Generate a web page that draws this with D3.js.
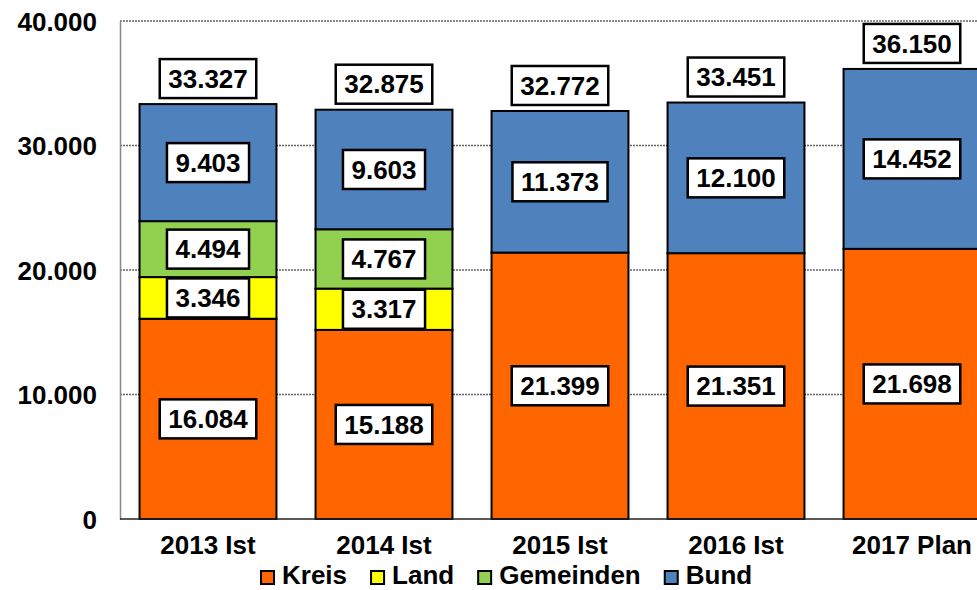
<!DOCTYPE html>
<html>
<head>
<meta charset="utf-8">
<script src="https://cdn.jsdelivr.net/npm/d3@7"></script>
<style>
  body { margin: 0; background: #fff; }
  svg text { font-family: "Liberation Sans", Arial, sans-serif; font-weight: bold; fill: #000; }
</style>
</head>
<body>
<svg id="chart" width="977" height="590"></svg>
<script>
(function() {

  var categories = ['2013 Ist', '2014 Ist', '2015 Ist', '2016 Ist', '2017 Plan'];
  var kreis     = [16084, 15188, 21399, 21351, 21698];
  var land      = [3346, 3317, 0, 0, 0];
  var gemeinden = [4494, 4767, 0, 0, 0];
  var bund      = [9403, 9603, 11373, 12100, 14452];
  var totals    = [33327, 32875, 32772, 33451, 36150];
  var yTicks    = [0, 10000, 20000, 30000, 40000];

  var seriesNames = ['Kreis', 'Land', 'Gemeinden', 'Bund'];
  var colors = ['#FF6600', '#FFFF00', '#92D050', '#4F81BD'];
  var seriesValues = [kreis, land, gemeinden, bund];

  // German number format: 33.327
  var de = d3.formatLocale({ decimal: ',', thousands: '.', grouping: [3], currency: ['', ' €'] });
  var fmt = de.format(',.0f');

  var svg = d3.select('#chart');

  var x = d3.scaleBand()
    .domain(categories)
    .range([120, 1000])
    .paddingInner(0.222)
    .paddingOuter(0.111);

  var y = d3.scaleLinear()
    .domain([0, 40000])
    .range([519, 21]);

  // build rows for the stack
  var rows = categories.map(function(c, i) {
    var r = { cat: c };
    seriesNames.forEach(function(s, j) { r[s] = seriesValues[j][i]; });
    return r;
  });
  var stacked = d3.stack().keys(seriesNames)(rows);

  // gridlines (dotted)
  svg.append('g')
    .selectAll('line')
    .data(yTicks.filter(function(d) { return d > 0; }))
    .enter().append('line')
    .attr('x1', 120).attr('x2', 977)
    .attr('y1', function(d) { return y(d); })
    .attr('y2', function(d) { return y(d); })
    .attr('stroke', '#666')
    .attr('stroke-width', 1.5)
    .attr('stroke-dasharray', '2,1');

  // y axis
  var yAxis = svg.append('g')
    .attr('transform', 'translate(120,0)')
    .call(d3.axisLeft(y).tickValues(yTicks).tickSize(0).tickPadding(23).tickFormat(fmt));
  yAxis.select('.domain').attr('stroke', '#888').attr('stroke-width', 1.5);
  yAxis.selectAll('text').style('font-size', '26px').attr('dy', '0.35em');

  // bars
  var layer = svg.append('g')
    .selectAll('g')
    .data(stacked)
    .enter().append('g')
    .attr('fill', function(d, i) { return colors[i]; });

  layer.selectAll('rect')
    .data(function(d) { return d.filter(function(p) { return p[1] - p[0] > 0; }); })
    .enter().append('rect')
    .attr('x', function(d) { return x(d.data.cat); })
    .attr('y', function(d) { return y(d[1]); })
    .attr('width', x.bandwidth())
    .attr('height', function(d) { return y(d[0]) - y(d[1]); })
    .attr('stroke', '#000')
    .attr('stroke-width', 2);

  // x axis line
  svg.append('line')
    .attr('x1', 120).attr('x2', 977)
    .attr('y1', y(0)).attr('y2', y(0))
    .attr('stroke', '#222').attr('stroke-width', 1.5);

  // x labels
  svg.append('g')
    .selectAll('text')
    .data(categories)
    .enter().append('text')
    .attr('x', function(d) { return x(d) + x.bandwidth() / 2; })
    .attr('y', 554)
    .attr('text-anchor', 'middle')
    .style('font-size', '26px')
    .text(function(d) { return d; });

  // boxed labels
  function boxLabel(g, cx, cy, txt) {
    var t = g.append('text')
      .attr('x', cx).attr('y', cy)
      .attr('dy', '0.35em')
      .attr('text-anchor', 'middle')
      .style('font-size', '26px')
      .text(txt);
    var w = t.node().getComputedTextLength() + 17;
    g.insert('rect', 'text')
      .attr('x', cx - w / 2).attr('y', cy - 19.5)
      .attr('width', w).attr('height', 39)
      .attr('fill', '#fff')
      .attr('stroke', '#000')
      .attr('stroke-width', 2.5);
  }

  var labels = svg.append('g');
  stacked.forEach(function(s) {
    s.forEach(function(p) {
      var v = p[1] - p[0];
      if (v <= 0) return;
      var g = labels.append('g');
      boxLabel(g, x(p.data.cat) + x.bandwidth() / 2, (y(p[0]) + y(p[1])) / 2, fmt(v));
    });
  });
  categories.forEach(function(c, i) {
    var g = labels.append('g');
    boxLabel(g, x(c) + x.bandwidth() / 2, y(totals[i]) - 6 - 19.5, fmt(totals[i]));
  });

  // legend
  var legend = svg.append('g');
  var lx = 261;
  seriesNames.forEach(function(name, i) {
    legend.append('rect')
      .attr('x', lx).attr('y', 571)
      .attr('width', 13).attr('height', 13)
      .attr('fill', colors[i])
      .attr('stroke', '#000')
      .attr('stroke-width', 2);
    var t = legend.append('text')
      .attr('x', lx + 21).attr('y', 584)
      .style('font-size', '26px')
      .text(name);
    lx += 21 + t.node().getComputedTextLength() + 24;
  });

})();
</script>
</body>
</html>
